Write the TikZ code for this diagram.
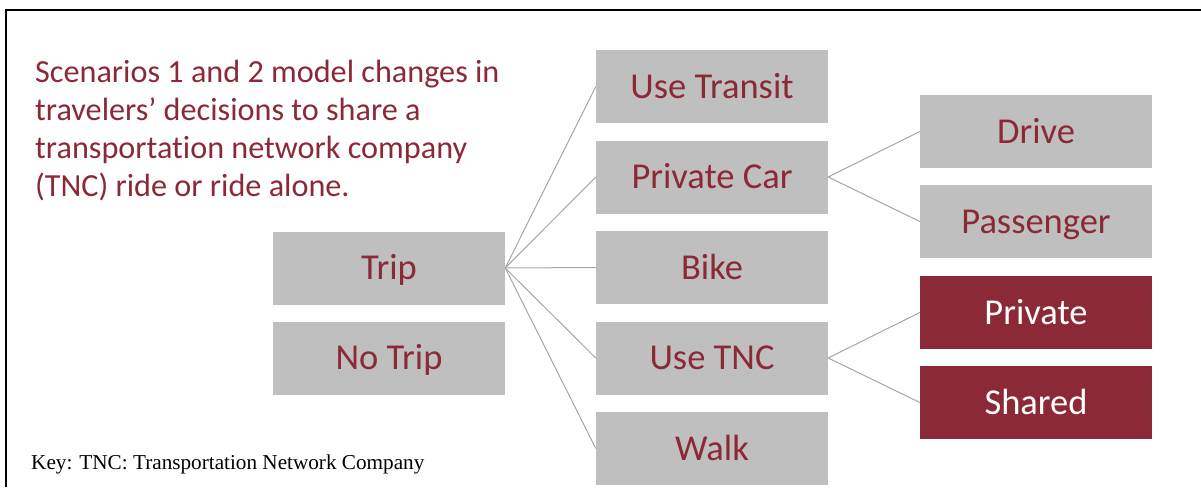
\documentclass[tikz,border=0pt]{standalone}
\usepackage{fontspec}
\setmainfont{Carlito}[Ligatures=NoCommon]
\newfontfamily\keyfont{Liberation Serif}
\definecolor{maroon}{RGB}{139,41,54}
\definecolor{boxgray}{RGB}{191,191,191}
\definecolor{linegray}{RGB}{166,166,166}
\tikzset{
  gbox/.style={fill=boxgray, draw=none, minimum width=232pt, minimum height=73pt, inner sep=0pt,
    text=maroon, text height=23.5pt, text depth=0pt, font=\fontsize{36.5}{40}\selectfont},
  rbox/.style={gbox, fill=maroon, text=white},
  conn/.style={draw=linegray, line width=1pt}
}
\begin{document}
\begin{tikzpicture}[x=1pt,y=-1pt]
\useasboundingbox (0,0) rectangle (1201,487);
\draw[line width=1.6pt] (6,487) -- (6,10) -- (1201,10);
\node[anchor=base west, inner sep=0pt, align=left, text=maroon, font=\fontsize{32.2}{38.1}\selectfont] (desc) at (35,196.7)
  {Scenarios 1 and 2 model changes in\\travelers’ decisions to share a\\transportation network company\\(TNC) ride or ride alone.};
\node[anchor=base west, inner sep=0pt, font=\keyfont\fontsize{21.2}{24}\selectfont] (key) at (31,469) {Key: TNC: Transportation Network Company};
\node[gbox] (trip) at (389,268) {Trip};
\node[gbox] (notrip) at (389,358) {No Trip};
\node[gbox] (transit) at (712,86.5) {Use Transit};
\node[gbox] (car) at (712,177) {Private Car};
\node[gbox] (bike) at (712,267.5) {Bike};
\node[gbox] (tnc) at (712,358) {Use TNC};
\node[gbox] (walk) at (712,448.5) {Walk};
\node[gbox] (drive) at (1036,131.5) {Drive};
\node[gbox] (passenger) at (1036,221.5) {Passenger};
\node[rbox] (private) at (1036,312.5) {Private};
\node[rbox] (shared) at (1036,402.5) {Shared};
\foreach \t in {transit,car,bike,tnc,walk} \draw[conn] (trip.east) -- (\t.west);
\foreach \t in {drive,passenger} \draw[conn] (car.east) -- (\t.west);
\foreach \t in {private,shared} \draw[conn] (tnc.east) -- (\t.west);
\end{tikzpicture}
\end{document}
